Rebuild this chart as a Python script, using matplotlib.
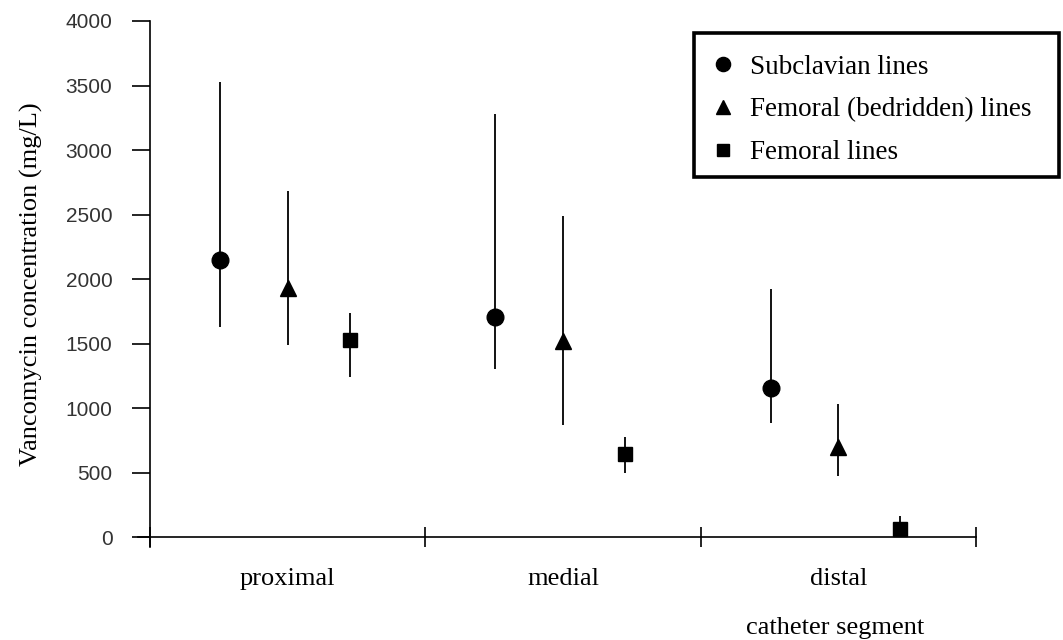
import matplotlib
matplotlib.use("Agg")
from matplotlib import pyplot as plt
from matplotlib.patches import Rectangle
from matplotlib.ticker import FixedLocator, NullFormatter, FixedFormatter

# catheter segments and vancomycin concentrations (mg/L): mean, lower, upper
segments = ["proximal", "medial", "distal"]

subclavian = [2147, 1708, 1155]
subclavian_low = [1630, 1300, 884]
subclavian_high = [3530, 3279, 1922]

bedridden = [1930, 1522, 698]
bedridden_low = [1488, 873, 473]
bedridden_high = [2685, 2488, 1031]

femoral = [1532, 643, 64]
femoral_low = [1238, 498, 0]
femoral_high = [1734, 778, 163]

y_ticks = [0, 500, 1000, 1500, 2000, 2500, 3000, 3500, 4000]

SERIF = ["Liberation Serif", "DejaVu Serif"]
SANS = ["Liberation Sans", "DejaVu Sans"]

series = [
    ("Subclavian lines", subclavian, subclavian_low, subclavian_high, "o", 12, -0.245),
    ("Femoral (bedridden) lines", bedridden, bedridden_low, bedridden_high, "^", 12, 0.0),
    ("Femoral lines", femoral, femoral_low, femoral_high, "s", 9.5, 0.225),
]

W, H = 1063, 640
fig = plt.figure(figsize=(W / 100, H / 100), dpi=100)
ax = fig.add_axes([0.1294, 0.145, 0.7887, 0.8222])

centers = [i + 0.5 for i in range(len(segments))]

for label, vals, low, high, marker, ms, offset in series:
    xs = [c + offset for c in centers]
    yerr = [[v - lo for v, lo in zip(vals, low)],
            [hi - v for v, hi in zip(vals, high)]]
    ax.errorbar(xs, vals, yerr=yerr, fmt="none", ecolor="black",
                elinewidth=1.3, capsize=0, zorder=2)
    ax.plot(xs, vals, linestyle="none", marker=marker, markersize=ms,
            color="black", label=label, zorder=3)

ax.set_xlim(-0.045, 3)
ax.set_ylim(-77, 4000)

for side in ("top", "right"):
    ax.spines[side].set_visible(False)
ax.spines["left"].set_position(("data", 0))
ax.spines["bottom"].set_position(("data", 0))
for side in ("left", "bottom"):
    ax.spines[side].set_linewidth(1.2)

# y axis
ax.yaxis.set_major_locator(FixedLocator(y_ticks))
ax.tick_params(axis="y", direction="out", length=13, width=1.2, pad=14,
               labelsize=15, labelcolor="#333333")
for t in ax.get_yticklabels():
    t.set_family(SANS)
ax.set_ylabel("Vancomycin concentration (mg/L)", family=SERIF, fontsize=19)
ax.yaxis.set_label_coords(-0.113, 0.5)

# x axis: separators as major ticks, segment names on minor ticks
ax.xaxis.set_major_locator(FixedLocator([0, 1, 2, 3]))
ax.xaxis.set_major_formatter(NullFormatter())
ax.xaxis.set_minor_locator(FixedLocator(centers))
ax.xaxis.set_minor_formatter(FixedFormatter(segments))
ax.tick_params(axis="x", which="major", direction="inout", length=14, width=1.2)
ax.tick_params(axis="x", which="minor", length=0, pad=22, labelsize=19)
for t in ax.get_xticklabels(minor=True):
    t.set_family(SERIF)

fig.text(835 / W, 1 - 628 / H, "catheter segment", family=SERIF,
         fontsize=19, ha="center", va="center")

# legend box drawn separately so its size matches the original
fig.patches.append(Rectangle((694 / W, 1 - 177 / H), 365 / W, 144 / H,
                             transform=fig.transFigure, fill=False,
                             edgecolor="black", linewidth=2.6))
ax.legend(loc="upper left", bbox_to_anchor=(712 / W, 1 - 54.5 / H),
          bbox_transform=fig.transFigure, borderaxespad=0, borderpad=0,
          prop={"family": SERIF, "size": 19.5}, frameon=False,
          handlelength=0.8, handletextpad=0.6, labelspacing=0.66,
          markerscale=0.85)

fig.savefig("out.png", dpi=100, facecolor="white")
